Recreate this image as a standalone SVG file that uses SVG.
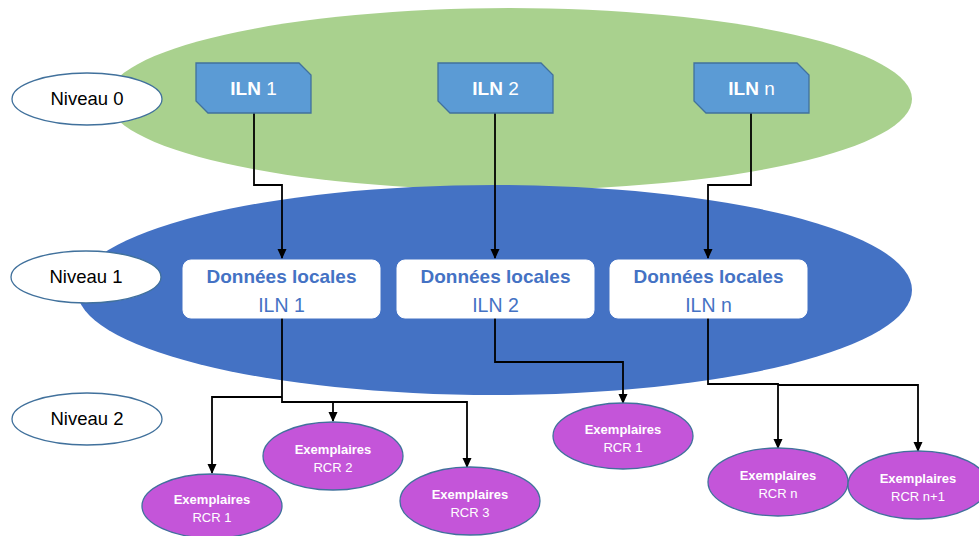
<svg xmlns="http://www.w3.org/2000/svg" width="979" height="536" viewBox="0 0 979 536">
<defs>
<marker id="arr" markerUnits="userSpaceOnUse" markerWidth="10" markerHeight="10" viewBox="0 0 10 10" refX="9" refY="5" orient="auto">
<path d="M0,0.5 L10,5 L0,9.5 Z" fill="#000"/>
</marker>
<style>
.lvl{fill:#fff;stroke:#41719C;stroke-width:1.3}
.lvlt{font-family:"Liberation Sans",Arial,sans-serif;font-size:18.5px;fill:#000;text-anchor:middle}
.iln{fill:#5B9BD5;stroke:#41719C;stroke-width:1.3}
.ilnt{font-family:"Liberation Sans",Arial,sans-serif;font-size:19px;fill:#fff;text-anchor:middle}
.box{fill:#fff;stroke:#fff}
.bt1{font-family:"Liberation Sans",Arial,sans-serif;font-size:19px;font-weight:bold;fill:#4472C4;text-anchor:middle}
.bt2{font-family:"Liberation Sans",Arial,sans-serif;font-size:19.5px;fill:#4472C4;text-anchor:middle}
.rcr{fill:#C455D9;stroke:#41719C;stroke-width:1.3}
.rt1{font-family:"Liberation Sans",Arial,sans-serif;font-size:13px;font-weight:bold;fill:#fff;text-anchor:middle}
.rt2{font-family:"Liberation Sans",Arial,sans-serif;font-size:13px;fill:#fff;text-anchor:middle}
.c{fill:none;stroke:#000;stroke-width:1.8}
</style>
</defs>
<rect width="979" height="536" fill="#fff"/>
<g id="level0-area"><ellipse cx="509.5" cy="99" rx="402.5" ry="91" fill="#A9D18E"/></g>
<g id="level1-area"><ellipse cx="494.5" cy="290" rx="417.5" ry="105" fill="#4472C4"/></g>

<g id="niveau0"><ellipse class="lvl" cx="87" cy="99" rx="75" ry="26"/><text class="lvlt" x="87" y="105">Niveau 0</text></g>
<g id="niveau1"><ellipse class="lvl" cx="86" cy="277" rx="75" ry="26"/><text class="lvlt" x="86" y="283">Niveau 1</text></g>
<g id="niveau2"><ellipse class="lvl" cx="87" cy="419" rx="75" ry="26"/><text class="lvlt" x="87" y="425">Niveau 2</text></g>

<g id="connectors">
<path class="c" d="M254,113 V185 H282 V258" marker-end="url(#arr)"/>
<path class="c" d="M495,113 V258" marker-end="url(#arr)"/>
<path class="c" d="M751,113 V185 H708 V258" marker-end="url(#arr)"/>
<path class="c" d="M282,318 V402 H467 V467" marker-end="url(#arr)"/>
<path class="c" d="M282,397 H212 V473" marker-end="url(#arr)"/>
<path class="c" d="M333,402 V421" marker-end="url(#arr)"/>
<path class="c" d="M495,318 V362 H623 V403" marker-end="url(#arr)"/>
<path class="c" d="M708,318 V384 H778 V448" marker-end="url(#arr)"/>
<path class="c" d="M778,385 H918 V451" marker-end="url(#arr)"/>
</g>

<g id="iln1"><path class="iln" d="M196,63 H299 L311,75 V113 H208 L196,101 Z"/><text class="ilnt" x="253.5" y="95"><tspan font-weight="bold">ILN</tspan> 1</text></g>
<g id="iln2"><path class="iln" d="M438,63 H541 L553,75 V113 H450 L438,101 Z"/><text class="ilnt" x="495.5" y="95"><tspan font-weight="bold">ILN</tspan> 2</text></g>
<g id="ilnn"><path class="iln" d="M694,63 H797 L809,75 V113 H706 L694,101 Z"/><text class="ilnt" x="751.5" y="95"><tspan font-weight="bold">ILN</tspan> n</text></g>

<g id="donnees1"><rect class="box" x="183" y="260" width="197" height="58" rx="8"/><text class="bt1" x="281.5" y="283">Données locales</text><text class="bt2" x="281.5" y="312">ILN 1</text></g>
<g id="donnees2"><rect class="box" x="397" y="260" width="197" height="58" rx="8"/><text class="bt1" x="495.5" y="283">Données locales</text><text class="bt2" x="495.5" y="312">ILN 2</text></g>
<g id="donneesn"><rect class="box" x="610" y="260" width="197" height="58" rx="8"/><text class="bt1" x="708.5" y="283">Données locales</text><text class="bt2" x="708.5" y="312">ILN n</text></g>

<g id="rcr1a"><ellipse class="rcr" cx="212" cy="506" rx="70" ry="32"/><text class="rt1" x="212" y="504">Exemplaires</text><text class="rt2" x="212" y="522">RCR 1</text></g>
<g id="rcr2"><ellipse class="rcr" cx="333" cy="456" rx="70" ry="34"/><text class="rt1" x="333" y="454">Exemplaires</text><text class="rt2" x="333" y="472">RCR 2</text></g>
<g id="rcr3"><ellipse class="rcr" cx="470" cy="501" rx="70" ry="34"/><text class="rt1" x="470" y="499">Exemplaires</text><text class="rt2" x="470" y="517">RCR 3</text></g>
<g id="rcr1b"><ellipse class="rcr" cx="623" cy="436" rx="70" ry="33"/><text class="rt1" x="623" y="434">Exemplaires</text><text class="rt2" x="623" y="452">RCR 1</text></g>
<g id="rcrn"><ellipse class="rcr" cx="778" cy="482" rx="70" ry="34"/><text class="rt1" x="778" y="480">Exemplaires</text><text class="rt2" x="778" y="498">RCR n</text></g>
<g id="rcrn1"><ellipse class="rcr" cx="918" cy="485" rx="70" ry="34"/><text class="rt1" x="918" y="483">Exemplaires</text><text class="rt2" x="918" y="501">RCR n+1</text></g>
</svg>
